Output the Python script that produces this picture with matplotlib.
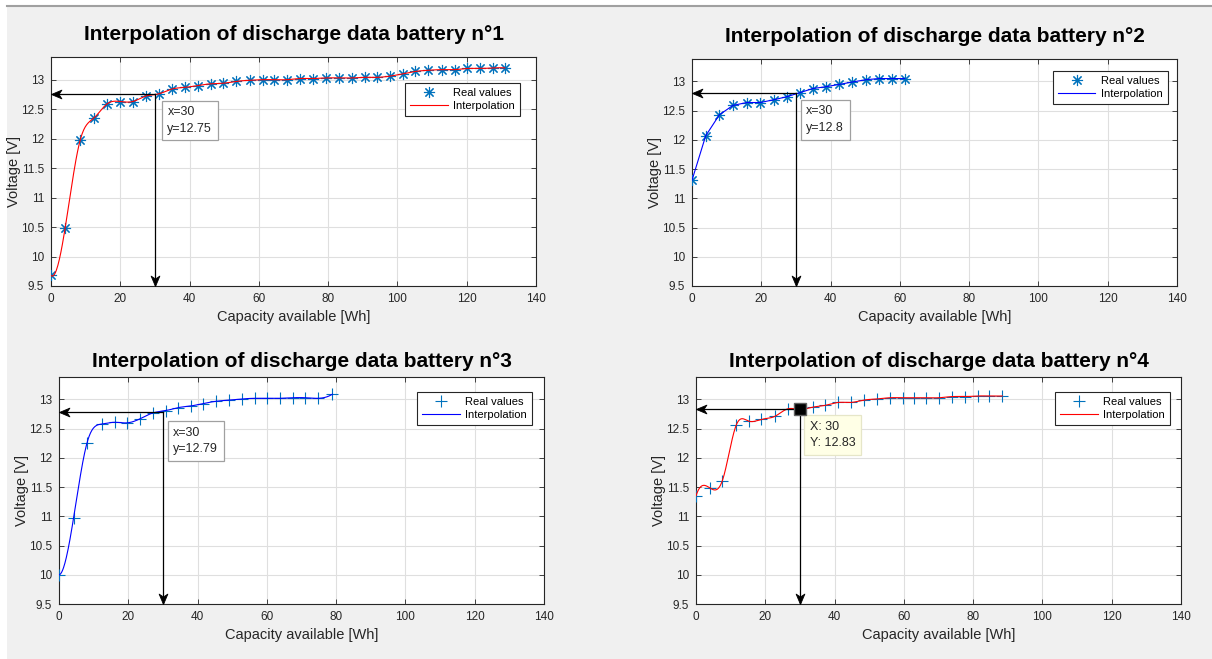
import matplotlib
matplotlib.use('Agg')

import numpy as np
import matplotlib.pyplot as plt
from matplotlib.patches import Rectangle
from matplotlib.lines import Line2D
from matplotlib.path import Path

# Battery 1 (asterisk markers, red spline)
cap_1 = [0, 4.1, 8.4, 12.4, 16.2, 20.0, 23.6, 27.3, 31.1, 34.8, 38.6, 42.3,
         46.1, 49.7, 53.3, 57.3, 61.1, 64.5, 68.2, 72.0, 75.7, 79.4, 83.2, 87.0,
         90.6, 94.2, 97.8, 101.6, 105.2, 108.9, 112.8, 116.5, 120.2, 123.8, 127.6, 131.0]
volt_1 = [9.68, 10.49, 11.97, 12.35, 12.59, 12.63, 12.63, 12.72, 12.76, 12.84, 12.87, 12.90,
          12.93, 12.94, 12.97, 12.99, 13.00, 13.00, 13.00, 13.02, 13.02, 13.03, 13.03, 13.03,
          13.04, 13.04, 13.06, 13.10, 13.14, 13.16, 13.17, 13.17, 13.19, 13.19, 13.20, 13.20]

# Battery 2 (asterisk markers, blue line)
cap_2 = [0, 3.95, 7.9, 11.8, 15.8, 19.7, 23.8, 27.4, 31.2, 34.9, 38.6, 42.5,
         46.2, 50.1, 53.9, 57.7, 61.4]
volt_2 = [11.31, 12.07, 12.43, 12.59, 12.64, 12.64, 12.69, 12.74, 12.81, 12.88, 12.91, 12.95,
          12.99, 13.03, 13.05, 13.05, 13.05]

# Battery 3 (plus markers, blue spline)
cap_3 = [0, 4.2, 8.1, 12.3, 16.1, 19.6, 23.4, 27.1, 30.8, 34.3, 38.1, 41.6,
         45.4, 49.1, 52.8, 56.7, 60.1, 63.7, 67.5, 71.1, 74.7, 78.9]
volt_3 = [10.00, 10.97, 12.26, 12.58, 12.61, 12.60, 12.67, 12.77, 12.81, 12.86, 12.89, 12.93,
          12.97, 12.99, 13.01, 13.02, 13.02, 13.02, 13.03, 13.03, 13.02, 13.09]

# Battery 4 (plus markers, red spline)
cap_4 = [0, 3.9, 7.6, 11.6, 15.2, 18.9, 22.7, 26.5, 30.1, 33.8, 37.3, 41.1,
         44.8, 48.5, 52.3, 56.0, 59.7, 62.8, 66.5, 70.2, 73.9, 77.6, 81.3, 84.7, 88.4]
volt_4 = [11.35, 11.49, 11.61, 12.56, 12.63, 12.66, 12.71, 12.84, 12.83, 12.87, 12.90, 12.95,
          12.95, 12.99, 13.01, 13.03, 13.03, 13.03, 13.03, 13.03, 13.05, 13.05, 13.06, 13.06, 13.06]

# value read at 30 Wh on each curve
read_x = 30
read_y = [12.75, 12.8, 12.79, 12.83]

titles = ['Interpolation of discharge data battery n°%d' % i for i in (1, 2, 3, 4)]


def spline(x, y, xq):
    """ Not-a-knot cubic spline (like MATLAB spline). """
    x = np.asarray(x, float)
    y = np.asarray(y, float)
    n = len(x)
    h = np.diff(x)
    A = np.zeros((n, n))
    r = np.zeros(n)
    A[0, 0], A[0, 1], A[0, 2] = h[1], -(h[0] + h[1]), h[0]
    A[-1, -3], A[-1, -2], A[-1, -1] = h[-1], -(h[-2] + h[-1]), h[-2]
    for i in range(1, n - 1):
        A[i, i - 1] = h[i - 1]
        A[i, i] = 2 * (h[i - 1] + h[i])
        A[i, i + 1] = h[i]
        r[i] = 6 * ((y[i + 1] - y[i]) / h[i] - (y[i] - y[i - 1]) / h[i - 1])
    M = np.linalg.solve(A, r)
    xq = np.asarray(xq, float)
    k = np.clip(np.searchsorted(x, xq) - 1, 0, n - 2)
    t = xq - x[k]
    b = (y[k + 1] - y[k]) / h[k] - h[k] * (2 * M[k] + M[k + 1]) / 6
    return y[k] + b * t + M[k] / 2 * t ** 2 + (M[k + 1] - M[k]) / (6 * h[k]) * t ** 3


def head(angle):
    """ MATLAB-like 'vback' arrow head, tip at the origin, pointing along angle. """
    v = np.array([[0, 0], [1, 0.42], [0.72, 0], [1, -0.42], [0, 0]])
    c, s = np.cos(np.radians(angle + 180)), np.sin(np.radians(angle + 180))
    v = v @ np.array([[c, s], [-s, c]])
    return Path(v, [Path.MOVETO, Path.LINETO, Path.LINETO, Path.LINETO, Path.CLOSEPOLY])


plt.rcParams['font.family'] = ['Liberation Sans', 'DejaVu Sans']
plt.rcParams['axes.edgecolor'] = '#262626'
plt.rcParams['xtick.color'] = '#262626'
plt.rcParams['ytick.color'] = '#262626'

fig = plt.figure(figsize=(12.12, 6.59), dpi=100, facecolor='white')
fig.patches.append(Rectangle((7 / 1212., 0), 1, 1 - 6 / 659., transform=fig.transFigure,
                             facecolor='#f0f0f0', edgecolor='none', zorder=-10))
fig.lines.append(Line2D([7 / 1212., 1], [1 - 5.5 / 659., 1 - 5.5 / 659.], transform=fig.transFigure,
                        color='#a0a0a0', lw=1.5))

# axes boxes in pixels: left, top, right, bottom
boxes = [(51, 57, 536, 286), (692, 59, 1177, 286), (59, 377, 544, 604), (696, 377, 1181, 604)]
axes = []
for (l, t, r, b) in boxes:
    ax = fig.add_axes([l / 1212., 1 - b / 659., (r - l) / 1212., (b - t) / 659.])
    axes.append(ax)

data = [(cap_1, volt_1), (cap_2, volt_2), (cap_3, volt_3), (cap_4, volt_4)]
markers = [(8, 2, 0), (8, 2, 0), '+', '+']
marker_size = [8, 8, 9, 9]
line_cols = ['#ff0000', '#0000ff', '#0000ff', '#ff0000']
legend_anchor = [(0.967, 0.886), (0.981, 0.947), (0.975, 0.934), (0.977, 0.934)]
box_pos = [(33.6, 12.55), (33.0, 12.59), (33.0, 12.53), (32.8, 12.64)]
title_pad = [12, 12, 7, 7]

for i, ax in enumerate(axes):
    cap, volt = data[i]
    ax.plot(cap, volt, linestyle='none', marker=markers[i], markersize=marker_size[i], mew=0.8,
            color='#0072BD', label='Real values', zorder=3)
    if i == 1:
        ax.plot(cap, volt, color=line_cols[i], lw=0.8, label='Interpolation', zorder=4)
    else:
        xq = np.linspace(0, cap[-1], 600)
        ax.plot(xq, spline(cap, volt, xq), color=line_cols[i], lw=0.8, label='Interpolation', zorder=4)

    # arrows from the read point to the axes
    ax.plot([read_x, 0.6], [read_y[i], read_y[i]], color='black', lw=0.9, zorder=5)
    ax.plot([read_x, read_x], [read_y[i], 9.52], color='black', lw=0.9, zorder=5)
    ax.plot([0], [read_y[i]], marker=head(180), markersize=15, color='black', mew=0.6,
            linestyle='none', clip_on=False, zorder=6)
    ax.plot([read_x], [9.5], marker=head(-90), markersize=15, color='black', mew=0.6,
            linestyle='none', clip_on=False, zorder=6)

    if i < 3:
        ax.text(box_pos[i][0], box_pos[i][1], 'x=%d\ny=%g' % (read_x, read_y[i]), fontsize=9,
                va='top', ha='left', linespacing=1.5, color='#262626', zorder=6,
                bbox=dict(boxstyle='square,pad=0.45', fc='white', ec='#a0a0a0', lw=0.9))
    else:
        ax.plot([read_x], [read_y[i]], marker='s', markersize=8, color='black',
                mec='#606060', zorder=7)
        ax.text(box_pos[i][0], box_pos[i][1], 'X: %d\nY: %g' % (read_x, read_y[i]), fontsize=9,
                va='top', ha='left', linespacing=1.5, color='#262626', zorder=6,
                bbox=dict(boxstyle='square,pad=0.45', fc='#ffffe6', ec='#e6e6c8', lw=0.9))

    ax.set_xlim(0, 140)
    ax.set_ylim(9.5, 13.385)
    ax.set_xticks(np.arange(0, 141, 20))
    ax.set_yticks([9.5, 10, 10.5, 11, 11.5, 12, 12.5, 13])
    ax.set_yticklabels(['9.5', '10', '10.5', '11', '11.5', '12', '12.5', '13'])
    ax.grid(True, color='#dfdfdf', lw=0.8)
    ax.set_axisbelow(True)
    ax.tick_params(direction='in', top=True, right=True, length=3.5, width=0.6,
                   labelsize=8.5, pad=5)
    for s in ax.spines.values():
        s.set_linewidth(0.8)
    ax.set_xlabel('Capacity available [Wh]', fontsize=10.5, color='#262626', labelpad=4)
    ax.set_ylabel('Voltage [V]', fontsize=10.5, color='#262626', labelpad=0)
    ax.set_title(titles[i], fontsize=15, fontweight='bold', pad=title_pad[i])
    leg = ax.legend(loc='upper right', bbox_to_anchor=legend_anchor[i], fontsize=8,
                    fancybox=False, framealpha=1, edgecolor='#262626', borderpad=0.45,
                    borderaxespad=0, handlelength=3.4, handletextpad=0.5,
                    labelspacing=0.25, markerfirst=True)
    leg.get_frame().set_linewidth(0.8)

plt.savefig('out.png', dpi=100, facecolor=fig.get_facecolor())
